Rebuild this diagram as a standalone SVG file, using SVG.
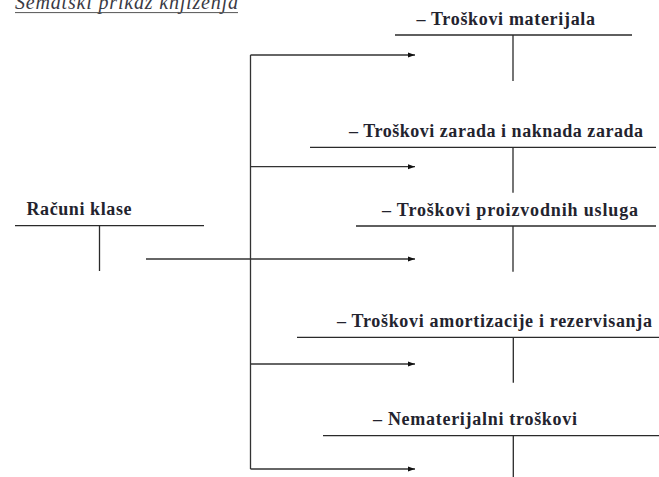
<svg xmlns="http://www.w3.org/2000/svg" width="659" height="477" viewBox="0 0 659 477">
<style>
.t{font-family:"Liberation Serif","Times New Roman",serif;font-weight:bold;font-size:18px;fill:#23232e}
.title{font-family:"Liberation Serif","Times New Roman",serif;font-style:italic;font-size:20px;fill:#3a3a44}
.acc{stroke:#2a2a2a;stroke-width:1.3;fill:none}
.con{stroke:#333;stroke-width:1.3;fill:none}
</style>
<defs>
<marker id="ah" markerWidth="7" markerHeight="6" refX="7" refY="3" orient="auto" markerUnits="userSpaceOnUse">
<path d="M0,0.5 L7,3 L0,5.5 Z" fill="#111"/>
</marker>
</defs>
<rect width="659" height="477" fill="#fff"/>
<g id="title">
<text class="title" x="15" y="9" textLength="223" lengthAdjust="spacing">Šematski prikaz knjiženja</text>
<line x1="15" y1="12.6" x2="238" y2="12.6" stroke="#555" stroke-width="1"/>
</g>
<g id="racuni-klase">
<text class="t" x="26.5" y="214.5" textLength="105" lengthAdjust="spacing">Računi klase</text>
<line class="acc" x1="15" y1="225.7" x2="204" y2="225.7"/>
<line class="acc" x1="99.5" y1="225.7" x2="99.5" y2="271"/>
</g>
<g id="materijal">
<text class="t" x="416.5" y="25" textLength="178.5" lengthAdjust="spacing">– Troškovi materijala</text>
<line class="acc" x1="395" y1="35" x2="632" y2="35"/>
<line class="acc" x1="513" y1="35" x2="513" y2="81"/>
</g>
<g id="zarade">
<text class="t" x="349" y="137" textLength="294" lengthAdjust="spacing">– Troškovi zarada i naknada zarada</text>
<line class="acc" x1="310" y1="147.3" x2="656" y2="147.3"/>
<line class="acc" x1="513" y1="147.3" x2="513" y2="192.7"/>
</g>
<g id="usluge">
<text class="t" x="382" y="216" textLength="256" lengthAdjust="spacing">– Troškovi proizvodnih usluga</text>
<line class="acc" x1="356" y1="226" x2="656" y2="226"/>
<line class="acc" x1="513" y1="226" x2="513" y2="271.7"/>
</g>
<g id="amortizacija">
<text class="t" x="337" y="327" textLength="315" lengthAdjust="spacing">– Troškovi amortizacije i rezervisanja</text>
<line class="acc" x1="297" y1="337.3" x2="659" y2="337.3"/>
<line class="acc" x1="513.3" y1="337.3" x2="513.3" y2="382.7"/>
</g>
<g id="nematerijalni">
<text class="t" x="373" y="425" textLength="204" lengthAdjust="spacing">– Nematerijalni troškovi</text>
<line class="acc" x1="323" y1="435.7" x2="659" y2="435.7"/>
<line class="acc" x1="513.3" y1="435.7" x2="513.3" y2="477"/>
</g>
<g id="connectors">
<line class="con" x1="250.5" y1="55" x2="250.5" y2="469"/>
<line class="con" x1="250.5" y1="55" x2="415" y2="55" marker-end="url(#ah)"/>
<line class="con" x1="250.5" y1="166.7" x2="415" y2="166.7" marker-end="url(#ah)"/>
<line class="con" x1="146" y1="259" x2="415" y2="259" marker-end="url(#ah)"/>
<line class="con" x1="250.5" y1="364" x2="415" y2="364" marker-end="url(#ah)"/>
<line class="con" x1="250.5" y1="469" x2="415" y2="469" marker-end="url(#ah)"/>
</g>
</svg>
